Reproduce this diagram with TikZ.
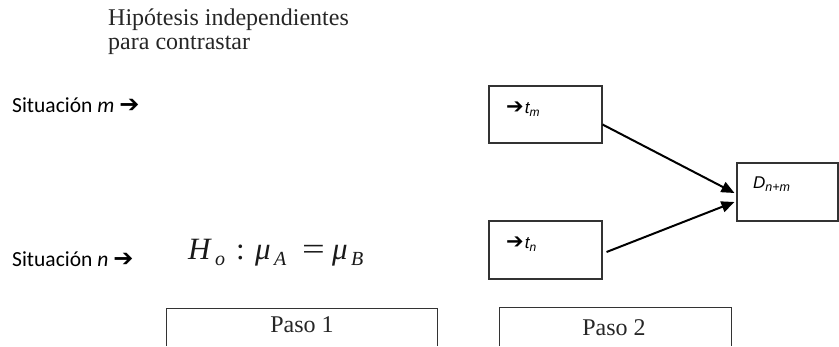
\documentclass[tikz,border=0pt]{standalone}
\usepackage{fontspec}
\setmainfont{Liberation Serif}
\newfontfamily\calfont{Carlito}
\newfontfamily\arfont{Liberation Sans}
\newfontfamily\dvfont{DejaVu Sans}
\usetikzlibrary{arrows.meta}
\newcommand{\harrow}[1]{{\dvfont\fontsize{#1}{#1}\selectfont ➔}}
\newcommand{\subtxt}[2]{\raisebox{-#1}{#2}}
\begin{document}
\begin{tikzpicture}[x=1pt,y=-1pt,
  box/.style={draw=black!80,line width=1.1pt,inner sep=0pt},
  conn/.style={draw=black,line width=2pt,-{Triangle[length=13pt,width=11pt]}},
  serif/.style={inner sep=0pt,font=\fontsize{24}{24}\selectfont,text=black!85},
  sit/.style={inner sep=0pt,anchor=base west,font=\calfont\fontsize{21.5}{21.5}\selectfont},
  small/.style={inner sep=0pt,anchor=base west,font=\arfont\itshape\fontsize{17}{17}\selectfont}]
\useasboundingbox (0,0) rectangle (839,346);
% title
\node[serif,anchor=base west] (title1) at (108,25) {Hipótesis independientes};
\node[serif,anchor=base west] (title2) at (108,49) {para contrastar};
% situations
\node[sit] (sm) at (12,112) {Situación \textit{m}\kern5pt\harrow{24}};
\node[sit] (sn) at (12,266) {Situación \textit{n}\kern5pt\harrow{24}};
% formula
\node[inner sep=0pt,anchor=base west,text=black!90,font=\fontsize{31}{31}\selectfont] (hyp) at (188,259)
  {\makebox[27pt][l]{\textit{H}}%
   \makebox[21pt][l]{\subtxt{6pt}{\fontsize{20}{20}\selectfont\textit{o}}}%
   \makebox[19pt][l]{:}%
   \makebox[19pt][l]{\textit{μ}}%
   \makebox[28pt][l]{\subtxt{6pt}{\fontsize{20}{20}\selectfont\textit{A}}}%
   \makebox[30pt][l]{\scalebox{1.3}[1]{=}}%
   \makebox[19pt][l]{\textit{μ}}%
   \subtxt{6pt}{\fontsize{20}{20}\selectfont\textit{B}}};
% step boxes
\node[box,minimum width=113pt,minimum height=57pt] (tm) at (545.5,114.5) {};
\node[box,minimum width=113pt,minimum height=58pt] (tn) at (545.5,250) {};
\node[box,minimum width=101pt,minimum height=58pt] (dd) at (787.5,192) {};
\node[small] (tml) at (506,113) {\harrow{21}\kern1pt t\subtxt{3pt}{\fontsize{12}{12}\selectfont m}};
\node[small] (tnl) at (506,248) {\harrow{21}\kern1pt t\subtxt{3pt}{\fontsize{12}{12}\selectfont n}};
\node[small] (ddl) at (753,188) {D\subtxt{3pt}{\fontsize{12.5}{12.5}\selectfont n+m}};
\draw[conn] ([yshift=-10pt]tm.east) -- ([xshift=-2pt,yshift=-1pt]dd.west);
\draw[conn] ([xshift=4pt,yshift=-2pt]tn.east) -- ([xshift=-2pt,yshift=-10pt]dd.west);
% paso boxes (open at bottom)
\node[inner sep=0pt,minimum width=271pt,minimum height=37pt] (p1) at (302,327.5) {};
\node[inner sep=0pt,minimum width=232pt,minimum height=38pt] (p2) at (615.5,327) {};
\draw[black!80,line width=1.1pt] (p1.south west) -- (p1.north west) -- (p1.north east) -- (p1.south east);
\draw[black!80,line width=1.1pt] (p2.south west) -- (p2.north west) -- (p2.north east) -- (p2.south east);
\node[serif,anchor=base] (p1l) at (302,332) {Paso 1};
\node[serif,anchor=base] (p2l) at (614,335) {Paso 2};
\end{tikzpicture}
\end{document}
